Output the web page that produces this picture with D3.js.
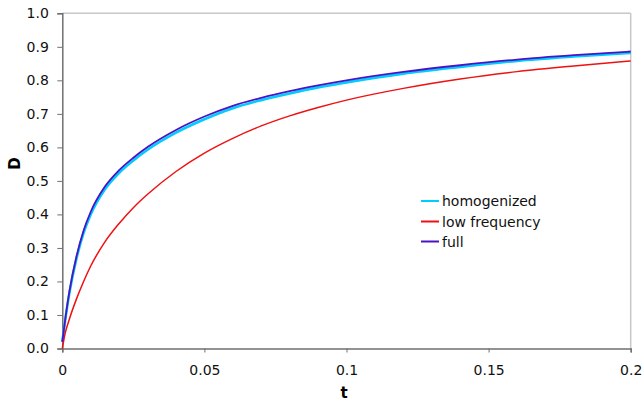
<!DOCTYPE html>
<html><head><meta charset="utf-8">
<script src="https://cdn.jsdelivr.net/npm/d3@7"></script>
<style>body{margin:0;background:#fff}svg{display:block}</style>
</head><body>
<svg id="c" width="642" height="403"></svg>
<script>
const tValues = [0,0.001,0.0025,0.005,0.0075,0.01,0.015,0.02,0.025,0.03,0.04,0.05,0.06,0.07,0.08,0.09,0.1,0.12,0.14,0.16,0.18,0.2];
const fullD  = [0.02,0.085,0.17,0.275,0.352,0.408,0.483,0.532,0.569,0.601,0.652,0.692,0.724,0.748,0.768,0.785,0.800,0.825,0.845,0.862,0.875,0.886];
const homogD = [0.02,0.083,0.166,0.269,0.345,0.400,0.475,0.524,0.561,0.593,0.644,0.684,0.717,0.741,0.761,0.779,0.794,0.820,0.840,0.858,0.871,0.882];
const lowD   = [0.0,0.045,0.088,0.148,0.200,0.246,0.318,0.373,0.420,0.460,0.528,0.583,0.627,0.664,0.694,0.719,0.741,0.776,0.804,0.826,0.843,0.858];
const seriesNames = ["homogenized","low frequency","full"];
const seriesColors = ["#00ccff","#ee1111","#4a14c4"];
const xTicks = [0,0.05,0.1,0.15,0.2];
const xTickLabels = ["0","0.05","0.1","0.15","0.2"];
const yTicks = [0,0.1,0.2,0.3,0.4,0.5,0.6,0.7,0.8,0.9,1.0];

const svg = d3.select("#c");
const L=62.3, R=630.7, T=13.3, B=348.5;
const x = d3.scaleLinear().domain([0,0.2]).range([L,R]);
const y = d3.scaleLinear().domain([0,1]).range([B,T]);
const font = "'DejaVu Sans', Verdana, sans-serif";

svg.append("line").attr("x1",L).attr("x2",R).attr("y1",T).attr("y2",T).attr("stroke","#c8c8c8").attr("stroke-width",1.5);
svg.append("line").attr("x1",R).attr("x2",R).attr("y1",T).attr("y2",B).attr("stroke","#c8c8c8").attr("stroke-width",1.5);

const yAxis = svg.append("g").attr("transform",`translate(${L},0)`)
  .call(d3.axisLeft(y).tickValues(yTicks).tickFormat(d3.format(".1f")).tickSize(5).tickPadding(8.5));
const xAxis = svg.append("g").attr("transform",`translate(0,${B})`)
  .call(d3.axisBottom(x).tickValues(xTicks).tickFormat((d,i)=>xTickLabels[i]).tickSize(4).tickPadding(12.5));
[yAxis,xAxis].forEach(g=>{
  g.select(".domain").attr("stroke","#707070").attr("stroke-width",1.5);
  g.selectAll(".tick line").attr("stroke","#707070").attr("stroke-width",1);
  g.selectAll("text").attr("font-family",font).attr("font-size",14).attr("fill","#111");
});

const data = [homogD, lowD, fullD];
const widths = [2.6,1.5,1.8];
const line = d3.line().x((d,i)=>x(tValues[i])).y(d=>y(d)).curve(d3.curveMonotoneX);
data.forEach((s,k)=>{
  svg.append("path").datum(s).attr("d",line).attr("fill","none")
    .attr("stroke",seriesColors[k]).attr("stroke-width",widths[k]);
});

svg.append("text").attr("x",344).attr("y",398).attr("text-anchor","middle")
  .attr("font-family",font).attr("font-weight","bold").attr("font-size",15).text("t");
svg.append("text").attr("transform","translate(19.5,163.5) rotate(-90)").attr("text-anchor","middle")
  .attr("font-family",font).attr("font-weight","bold").attr("font-size",15).text("D");

const legY = [201,221.5,241.5];
seriesNames.forEach((n,k)=>{
  svg.append("line").attr("x1",421).attr("x2",439).attr("y1",legY[k]).attr("y2",legY[k])
    .attr("stroke",seriesColors[k]).attr("stroke-width",2);
  svg.append("text").attr("x",442).attr("y",legY[k]).attr("dy","0.36em")
    .attr("font-family",font).attr("font-size",14).attr("fill","#111").text(n);
});
</script>
</body></html>
